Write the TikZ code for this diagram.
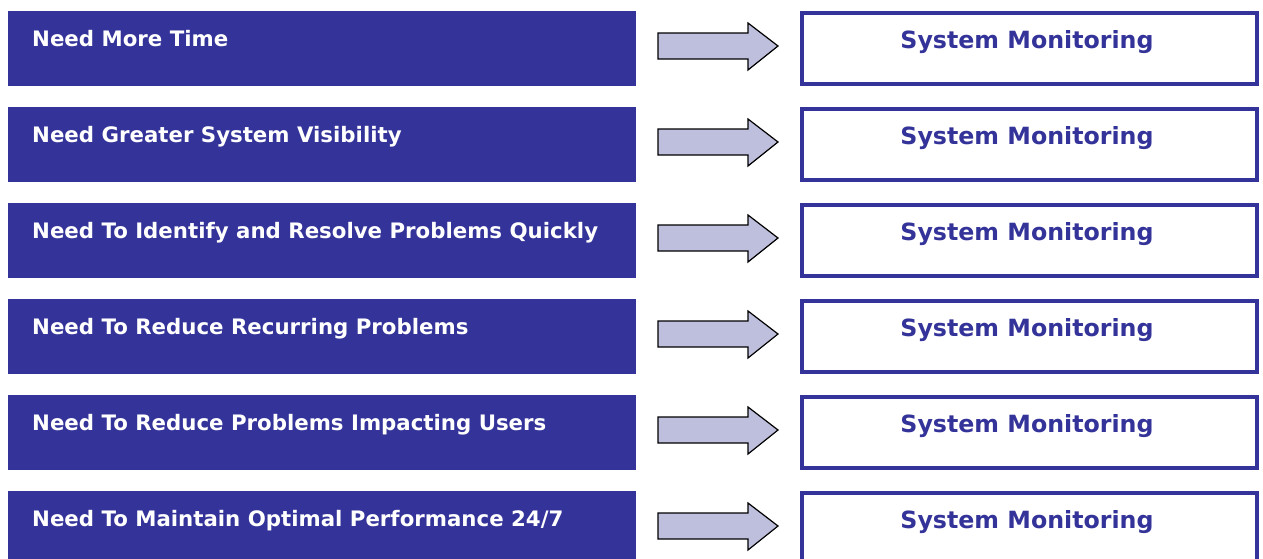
\documentclass[tikz,border=0pt]{standalone}
\usepackage{fontspec}
\setmainfont{DejaVu Sans}
\definecolor{navy}{HTML}{333399}
\definecolor{lilac}{HTML}{BEBEDD}
\tikzset{
  needbox/.style={fill=navy, draw=none, minimum width=628pt, minimum height=75pt, inner sep=0pt, outer sep=0pt, anchor=north west},
  needtext/.style={text=white, font=\bfseries\fontsize{21.3}{24}\selectfont, anchor=base west, inner sep=0pt},
  toolbox/.style={draw=navy, line width=4pt, fill=white, minimum width=455pt, minimum height=71pt, inner sep=0pt, outer sep=0pt, anchor=north west},
  tooltext/.style={text=navy, font=\bfseries\fontsize{23.7}{28}\selectfont, anchor=base, inner sep=0pt},
  bigarrow/.style={draw=black, fill=lilac, line width=1.2pt, line join=miter}
}
\begin{document}
\begin{tikzpicture}[x=1pt,y=-1pt]
  \useasboundingbox (0,0) rectangle (1263,558);
  \foreach \i/\need in {0/{Need More Time},
                        1/{Need Greater System Visibility},
                        2/{Need To Identify and Resolve Problems Quickly},
                        3/{Need To Reduce Recurring Problems},
                        4/{Need To Reduce Problems Impacting Users},
                        5/{Need To Maintain Optimal Performance 24/7}}{
    \pgfmathsetmacro{\top}{11+96*\i}
    % need on the left
    \node[needbox] (need\i) at (8,\top) {};
    \node[needtext] (needlabel\i) at (32,\top+35) {\need};
    % outcome on the right
    \node[toolbox] (tool\i) at (802,\top+2) {};
    \node[tooltext] (toollabel\i) at (1027,\top+37) {System Monitoring};
    % block arrow between them
    \draw[bigarrow] (658,\top+22) -- (748,\top+22) -- (748,\top+12)
      -- (778,\top+35) -- (748,\top+59) -- (748,\top+48) -- (658,\top+48) -- cycle;
  }
\end{tikzpicture}
\end{document}
